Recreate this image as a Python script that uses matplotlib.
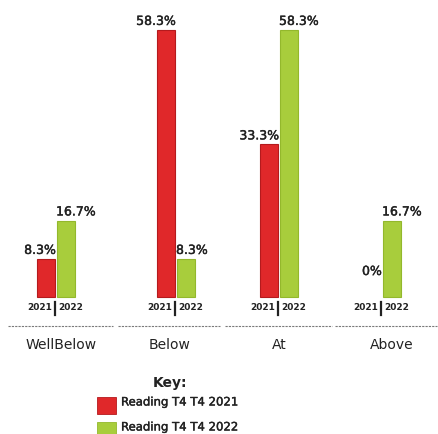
import numpy as np
import matplotlib
matplotlib.use("Agg")
import matplotlib.pyplot as plt
import matplotlib.patheffects as pe
from matplotlib.patches import Rectangle
from matplotlib.lines import Line2D

# --- data -------------------------------------------------------------------
CATEGORIES = ["WellBelow", "Below", "At", "Above"]
SERIES = ["Reading T4 T4 2021", "Reading T4 T4 2022"]
YEARS = ["2021", "2022"]
VALS_2021 = [8.3, 58.3, 33.3, 0.0]
VALS_2022 = [16.7, 8.3, 58.3, 16.7]

# --- layout (pixel space, 438 x 434 canvas) ----------------------------------
W, H = 438, 434
GROUP_X = [56, 176, 279, 382]          # centre of each bar pair
SEP_SPANS = [(8, 113), (118, 220), (225, 332), (335, 437)]
LABEL_X = [61, 170, 279, 392]
BAR_W = 18
BAR_GAP = 2
BASE_PX = 297                          # y pixel of the bar baseline
PX_PER_PCT = 4.58
MIN_LABEL = 3.7                        # keep the "0%" label off the baseline

RED = "#e0282a"
RED_EDGE = "#b51a1d"
GREEN = "#a8cd3c"
GREEN_EDGE = "#93b82c"
TEXT = "#222222"

# light stroke gives the medium weight of the printed labels
MEDIUM = [pe.withStroke(linewidth=0.3, foreground=TEXT)]


def fig_xy(px, py):
    return px / W, 1 - py / H


fig = plt.figure(figsize=(W / 100, H / 100), dpi=100)
ax = fig.add_axes([0, 0, 1, 1])
ax.set_xlim(0, W)
ax.set_ylim((BASE_PX - H) / PX_PER_PCT, BASE_PX / PX_PER_PCT)
ax.axis("off")

for cx, v21, v22 in zip(GROUP_X, VALS_2021, VALS_2022):
    x_red = cx - BAR_GAP / 2 - BAR_W
    x_grn = cx + BAR_GAP / 2
    for x0, v, fc, ec in ((x_red, v21, RED, RED_EDGE), (x_grn, v22, GREEN, GREEN_EDGE)):
        if v > 0:
            ax.add_patch(Rectangle((x0, 0), BAR_W, v, facecolor=fc,
                                   edgecolor=ec, linewidth=0.8))
    # value labels hug the outer edge of each bar
    ax.annotate(f"{v21:g}%", (x_red + BAR_W + 1, max(v21, MIN_LABEL)),
                xytext=(0, 1.5), textcoords="offset points",
                ha="right", va="bottom", fontsize=9, color=TEXT,
                path_effects=MEDIUM)
    ax.annotate(f"{v22:g}%", (x_grn - 1, max(v22, MIN_LABEL)),
                xytext=(0, 1.5), textcoords="offset points",
                ha="left", va="bottom", fontsize=9, color=TEXT,
                path_effects=MEDIUM)

    # year captions under the pair
    fx, fy = fig_xy(cx - 4, 308)
    fig.text(fx, fy, YEARS[0], ha="right", va="center", fontsize=6.5,
             fontweight="bold", color=TEXT)
    fx, fy = fig_xy(cx + 2, 308)
    fig.text(fx, fy, YEARS[1], ha="left", va="center", fontsize=6.5,
             fontweight="bold", color=TEXT)
    x0, y0 = fig_xy(cx - 1, 302)
    x1, y1 = fig_xy(cx - 1, 315)
    fig.add_artist(Line2D([x0, x1], [y0, y1], color=TEXT, lw=1.6))

# dashed rule under each group
for a, b in SEP_SPANS:
    x0, y = fig_xy(a, 326)
    x1, _ = fig_xy(b, 326)
    fig.add_artist(Line2D([x0, x1], [y, y], color="#7a7a7a", lw=0.8,
                          ls=(0, (2, 1))))

for lx, name in zip(LABEL_X, CATEGORIES):
    fx, fy = fig_xy(lx, 345)
    fig.text(fx, fy, name, ha="center", va="center", fontsize=10, color=TEXT)

# key
fx, fy = fig_xy(170, 383)
fig.text(fx, fy, "Key:", ha="center", va="center", fontsize=10,
         fontweight="bold", color=TEXT)
for i, (name, fc, ec) in enumerate(zip(SERIES, (RED, GREEN), (RED_EDGE, GREEN_EDGE))):
    top = 397 + i * 25
    x0, y0 = fig_xy(97, top + 17)
    fig.add_artist(Rectangle((x0, y0), 19 / W, 17 / H, facecolor=fc,
                             edgecolor=ec, linewidth=0.6,
                             transform=fig.transFigure))
    fx, fy = fig_xy(121, top + 5)
    fig.text(fx, fy, name, ha="left", va="center", fontsize=8.4, color=TEXT,
             path_effects=MEDIUM)

fig.savefig("out.png", dpi=100)
